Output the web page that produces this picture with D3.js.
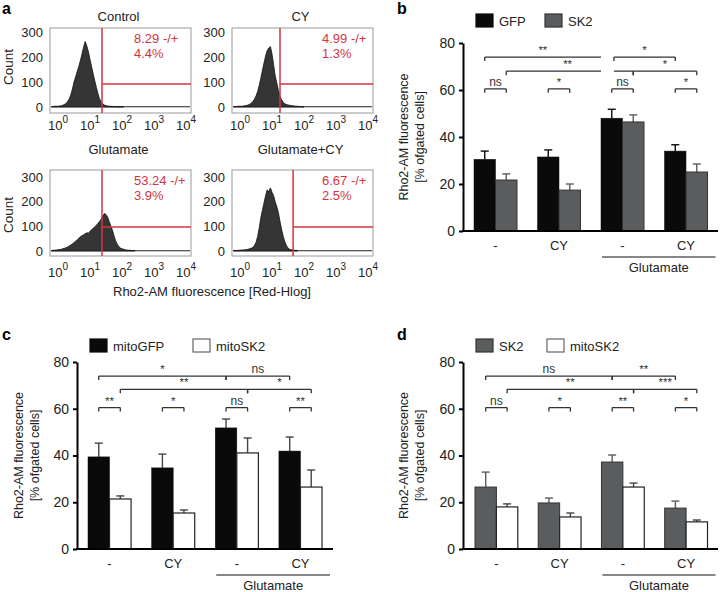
<!DOCTYPE html>
<html><head><meta charset="utf-8">
<script src="https://cdn.jsdelivr.net/npm/d3@7"></script>
<style>body{margin:0;background:#fff} svg text{font-family:"Liberation Sans",Arial,sans-serif}</style>
</head><body><svg id="chart" width="720" height="592"></svg>
<script>
// ---------- DATA ----------
const histStart = -0.2, histStep = 0.05; // log10 bin positions
const histControl = [2,2,3,3,3,4,5,7,10,14,22,32,48,72,100,120,142,162,186,212,240,262,244,222,190,162,132,104,78,52,32,20,12,8,5,4,3,3,2,2,2,1,1,1,1,1];
const histCY = [2,2,2,3,3,3,4,5,6,8,11,15,22,31,44,62,86,115,146,176,204,226,236,242,212,170,124,96,66,44,29,19,13,10,8,7,6,5,4,3,3,2,2,1,1];
const histGlu = [2,3,3,4,5,6,7,9,11,13,16,20,24,29,34,40,45,52,58,62,66,70,74,72,80,86,92,98,104,112,120,130,142,152,148,138,120,102,85,62,42,28,18,12,9,7,5,4,3,3,2,2,2];
const histGluCY = [2,2,2,3,3,4,4,5,6,7,9,11,15,22,35,58,92,135,165,195,225,248,240,256,238,225,200,180,155,120,88,60,38,22,12,7,5,4,3,3,2];
const histTitles = ["Control","CY","Glutamate","Glutamate+CY"];
const histGates = [1.375, 1.25, 1.375, 1.66];       // log10 fluorescence gate
const histGateCounts = [92, 92, 97, 97];              // horizontal gate level (count)
const histStats = [["8.29 -/+","4.4%"],["4.99 -/+","1.3%"],["53.24 -/+","3.9%"],["6.67 -/+","2.5%"]];
const histYTicks = [0,100,200,300];
const histXTicks = [0,1,2,3,4];

const groups = ["g1","g2","g3","g4"];
const groupLabels = ["-","CY","-","CY"];
const yTicks = [0,20,40,60,80];

// panel b
const bGFP = [30.5, 31.5, 48, 34];
const bGFPErr = [3.5, 3, 3.8, 2.7];
const bSK2 = [21.7, 17.4, 46.4, 25.1];
const bSK2Err = [2.6, 2.6, 3, 3.4];
// panel c
const cMitoGFP = [39.4, 34.7, 51.8, 41.9];
const cMitoGFPErr = [5.9, 5.9, 3.8, 6.0];
const cMitoSK2 = [21.4, 15.4, 41.1, 26.5];
const cMitoSK2Err = [1.3, 1.3, 6.4, 7.3];
// panel d
const dSK2 = [26.5, 19.7, 37.2, 17.5];
const dSK2Err = [6.4, 2.1, 3.0, 3.0];
const dMitoSK2 = [18, 13.7, 26.5, 11.6];
const dMitoSK2Err = [1.3, 1.7, 1.7, 0.8];

// significance brackets: [group, seriesPos] endpoints, level (data units), label
const bBrackets = [
  {a:[0,0], b:[2,-0.5], lvl:74, label:"**", ta:1, tb:0},
  {a:[2,0.1], b:[3,0], lvl:74, label:"*", ta:1, tb:1},
  {a:[0,1], b:[2,-0.5], lvl:68, label:"**", ta:1, tb:0, dx:14},
  {a:[2,0.1], b:[2,1], lvl:68, label:"", ta:0, tb:1},
  {a:[2,1], b:[3,1], lvl:68, label:"*", ta:1, tb:1},
  {a:[0,0], b:[0,1], lvl:60.5, label:"ns", ta:1, tb:1},
  {a:[1,0], b:[1,1], lvl:60.5, label:"*", ta:1, tb:1},
  {a:[2,0], b:[2,1], lvl:60.5, label:"ns", ta:1, tb:1},
  {a:[3,0], b:[3,1], lvl:60.5, label:"*", ta:1, tb:1}
];
const cBrackets = [
  {a:[0,0], b:[2,0], lvl:74, label:"*", ta:1, tb:1},
  {a:[2,0], b:[3,0], lvl:74, label:"ns", ta:1, tb:1},
  {a:[0,1], b:[2,1], lvl:68.3, label:"**", ta:1, tb:1},
  {a:[2,1], b:[3,1], lvl:68.3, label:"*", ta:1, tb:1},
  {a:[0,0], b:[0,1], lvl:60.5, label:"**", ta:1, tb:1},
  {a:[1,0], b:[1,1], lvl:60.5, label:"*", ta:1, tb:1},
  {a:[2,0], b:[2,1], lvl:60.5, label:"ns", ta:1, tb:1},
  {a:[3,0], b:[3,1], lvl:60.5, label:"**", ta:1, tb:1}
];
const dBrackets = [
  {a:[0,0], b:[2,0], lvl:74, label:"ns", ta:1, tb:1},
  {a:[2,0], b:[3,0], lvl:74, label:"**", ta:1, tb:1},
  {a:[0,1], b:[2,1], lvl:68.3, label:"**", ta:1, tb:1},
  {a:[2,1], b:[3,1], lvl:68.3, label:"***", ta:1, tb:1},
  {a:[0,0], b:[0,1], lvl:60.5, label:"ns", ta:1, tb:1},
  {a:[1,0], b:[1,1], lvl:60.5, label:"*", ta:1, tb:1},
  {a:[2,0], b:[2,1], lvl:60.5, label:"**", ta:1, tb:1},
  {a:[3,0], b:[3,1], lvl:60.5, label:"*", ta:1, tb:1}
];

// ---------- DRAW ----------
const svg = d3.select("#chart");
const RED = "#d4343e";
const BLACK = "#0a0a0a", GREY = "#5b5c5e";

// panel letters
[["a",2,14],["b",397,14],["c",2,340],["d",397,340]].forEach(([t,x,y]) =>
  svg.append("text").attr("x",x).attr("y",y).attr("font-size",16).attr("font-weight","bold").text(t));

// ---- panel a ----
const histData = [histControl, histCY, histGlu, histGluCY];
const boxes = [
  {x:50, y:28, w:141, h:85, zero:107, top:32, tickY:130, titleY:21},
  {x:232, y:28, w:141, h:85, zero:107, top:32, tickY:130, titleY:21},
  {x:50, y:170, w:141, h:86, zero:251, top:177, tickY:277, titleY:154},
  {x:232, y:170, w:141, h:86, zero:251, top:177, tickY:277, titleY:154}
];
boxes.forEach((b, i) => {
  const g = svg.append("g");
  const x = d3.scaleLinear().domain([0,4]).range([b.x+8, b.x+8+128]);
  const y = d3.scaleLinear().domain([0,300]).range([b.zero, b.top]);
  const pts = histData[i].map((c, k) => ({lg: histStart + k*histStep, c}));
  // baseline tail
  g.append("line").attr("x1", b.x+1).attr("x2", b.x+b.w-1)
    .attr("y1", y(1)).attr("y2", y(1)).attr("stroke","#222").attr("stroke-width",1.2);
  g.append("path").datum(pts)
    .attr("d", d3.area().x(d=>x(d.lg)).y0(y(0)).y1(d=>y(d.c)))
    .attr("fill","#353535").attr("stroke","#111").attr("stroke-width",0.8);
  g.append("rect").attr("x",b.x).attr("y",b.y).attr("width",b.w).attr("height",b.h)
    .attr("fill","none").attr("stroke","#9a9a9a").attr("stroke-width",1);
  // gates
  const gx = x(histGates[i]);
  g.append("line").attr("x1",gx).attr("x2",gx).attr("y1",b.y).attr("y2",b.y+b.h)
    .attr("stroke",RED).attr("stroke-width",1.5);
  g.append("line").attr("x1",gx).attr("x2",b.x+b.w).attr("y1",y(histGateCounts[i])).attr("y2",y(histGateCounts[i]))
    .attr("stroke",RED).attr("stroke-width",1.5);
  // stats
  const tx = b.x + (i%2 ? 90 : 84);
  g.append("text").attr("x",tx).attr("y",b.y+15).attr("fill",RED).attr("font-size",13).text(histStats[i][0]);
  g.append("text").attr("x",tx).attr("y",b.y+30).attr("fill",RED).attr("font-size",13).text(histStats[i][1]);
  // y ticks
  histYTicks.forEach(t => g.append("text").attr("x",b.x-7).attr("y",y(t)).attr("dy","0.35em")
    .attr("text-anchor","end").attr("font-size",13).attr("fill","#222").text(t));
  // x ticks
  histXTicks.forEach(t => {
    const tt = g.append("text").attr("x",x(t)).attr("y",b.tickY).attr("text-anchor","middle")
      .attr("font-size",13).attr("fill","#222");
    tt.append("tspan").text("10");
    tt.append("tspan").attr("dy",-7).attr("font-size",10).text(t);
  });
  g.append("text").attr("x",b.x+b.w/2-2).attr("y",b.titleY).attr("text-anchor","middle")
    .attr("font-size",13).attr("fill","#222").text(histTitles[i]);
});
[[13,67],[13,215]].forEach(([x,y]) => svg.append("text").attr("transform",`translate(${x},${y}) rotate(-90)`)
  .attr("text-anchor","middle").attr("font-size",13.5).attr("fill","#222").text("Count"));
svg.append("text").attr("x",212).attr("y",296).attr("text-anchor","middle").attr("font-size",13)
  .attr("fill","#222").text("Rho2-AM fluorescence [Red-Hlog]");

// ---- bar panels ----
function barPanel(cfg) {
  const g = svg.append("g");
  const y = d3.scaleLinear().domain([0,80]).range([cfg.y0, cfg.y80]);
  const x0 = d3.scaleBand().domain(groups).range([cfg.L, cfg.R]).paddingInner(0.323).paddingOuter(0);
  const x1 = d3.scaleBand().domain(cfg.series.map(s=>s.name)).range([0, x0.bandwidth()]);
  const cx = (gi, sp) => x0(groups[gi]) + x1.bandwidth()*(sp+0.5);

  cfg.series.forEach((s, si) => {
    groups.forEach((gr, gi) => {
      const v = s.values[gi], e = s.errs[gi];
      const bx = x0(gr) + x1(s.name);
      const mid = bx + x1.bandwidth()/2;
      g.append("line").attr("x1",mid).attr("x2",mid).attr("y1",y(v)).attr("y2",y(v+e))
        .attr("stroke",s.err).attr("stroke-width",1.4);
      g.append("line").attr("x1",mid-4).attr("x2",mid+4).attr("y1",y(v+e)).attr("y2",y(v+e))
        .attr("stroke",s.err).attr("stroke-width",1.4);
      g.append("rect").attr("x",bx).attr("y",y(v)).attr("width",x1.bandwidth()).attr("height",y(0)-y(v))
        .attr("fill",s.fill).attr("stroke",s.stroke).attr("stroke-width",s.sw);
    });
  });
  // axes
  const ax = g.append("g").attr("transform",`translate(${cfg.axisX},0)`)
    .call(d3.axisLeft(y).tickValues(yTicks).tickSize(4).tickSizeOuter(0).tickPadding(4));
  ax.select(".domain").attr("stroke","#000").attr("stroke-width",2);
  ax.selectAll(".tick line").attr("stroke","#000").attr("stroke-width",2);
  ax.selectAll(".tick text").attr("font-size",14).attr("fill","#222").attr("font-family","Liberation Sans, Arial, sans-serif");
  g.append("line").attr("x1",cfg.axisX-1).attr("x2",cfg.axisRight).attr("y1",y(0)).attr("y2",y(0))
    .attr("stroke","#000").attr("stroke-width",2);
  // group labels
  groups.forEach((gr, gi) => g.append("text").attr("x",x0(gr)+x0.bandwidth()/2).attr("y",y(0)+19)
    .attr("text-anchor","middle").attr("font-size",13).attr("fill","#222").text(groupLabels[gi]));
  const gl1 = x0(groups[2]) + 1, gl2 = x0(groups[3]) + x0.bandwidth() + 8;
  g.append("line").attr("x1",gl1).attr("x2",gl2).attr("y1",y(0)+26).attr("y2",y(0)+26)
    .attr("stroke","#111").attr("stroke-width",1.2);
  g.append("text").attr("x",(gl1+gl2)/2).attr("y",y(0)+41).attr("text-anchor","middle")
    .attr("font-size",13).attr("fill","#222").text("Glutamate");
  // y label
  g.append("text").attr("transform",`translate(${cfg.yl1},${(cfg.y0+cfg.y80)/2}) rotate(-90)`)
    .attr("text-anchor","middle").attr("font-size",12.5).attr("fill","#222").text("Rho2-AM fluorescence");
  g.append("text").attr("transform",`translate(${cfg.yl2},${(cfg.y0+cfg.y80)/2}) rotate(-90)`)
    .attr("text-anchor","middle").attr("font-size",12.5).attr("fill","#222").text("[% ofgated cells]");
  // brackets
  cfg.brackets.forEach(bk => {
    const xa = cx(bk.a[0], bk.a[1]), xb = cx(bk.b[0], bk.b[1]), yy = y(bk.lvl);
    let d = `M${xa},${yy}H${xb}`;
    if (bk.ta) d += `M${xa},${yy}V${yy+4}`;
    if (bk.tb) d += `M${xb},${yy}V${yy+4}`;
    g.append("path").attr("d",d).attr("fill","none").attr("stroke","#333").attr("stroke-width",1.3);
    if (bk.label) g.append("text").attr("x",(xa+xb)/2 + (bk.dx||0)).attr("y",yy-3)
      .attr("text-anchor","middle").attr("font-size",bk.label==="ns"?12:11.5).attr("fill","#333").text(bk.label);
  });
  // legend
  cfg.legend.forEach(l => {
    g.append("rect").attr("x",l.x).attr("y",cfg.legY).attr("width",17).attr("height",13)
      .attr("fill",l.fill).attr("stroke",l.stroke).attr("stroke-width",1.2);
    g.append("text").attr("x",l.x+23).attr("y",cfg.legY+11.5).attr("font-size",13).attr("fill","#222").text(l.name);
  });
}

barPanel({
  L:474, R:707.5, axisX:463, axisRight:718, y0:231, y80:43, yl1:408, yl2:424, legY:14,
  series:[
    {name:"GFP", values:bGFP, errs:bGFPErr, fill:BLACK, stroke:BLACK, sw:0.5, err:BLACK},
    {name:"SK2", values:bSK2, errs:bSK2Err, fill:GREY, stroke:"#333", sw:1, err:GREY}
  ],
  brackets:bBrackets,
  legend:[{x:476, name:"GFP", fill:BLACK, stroke:BLACK},{x:545, name:"SK2", fill:GREY, stroke:"#333"}]
});
barPanel({
  L:88, R:322, axisX:77, axisRight:333, y0:549, y80:362, yl1:23, yl2:39, legY:339,
  series:[
    {name:"mitoGFP", values:cMitoGFP, errs:cMitoGFPErr, fill:BLACK, stroke:BLACK, sw:0.5, err:"#444"},
    {name:"mitoSK2", values:cMitoSK2, errs:cMitoSK2Err, fill:"#fff", stroke:"#222", sw:1.2, err:"#444"}
  ],
  brackets:cBrackets,
  legend:[{x:90, name:"mitoGFP", fill:BLACK, stroke:BLACK},{x:193, name:"mitoSK2", fill:"#fff", stroke:"#666"}]
});
barPanel({
  L:475, R:707.5, axisX:463, axisRight:718, y0:549, y80:362, yl1:408, yl2:424, legY:339,
  series:[
    {name:"SK2", values:dSK2, errs:dSK2Err, fill:GREY, stroke:"#333", sw:1, err:GREY},
    {name:"mitoSK2", values:dMitoSK2, errs:dMitoSK2Err, fill:"#fff", stroke:"#222", sw:1.2, err:"#444"}
  ],
  brackets:dBrackets,
  legend:[{x:476, name:"SK2", fill:GREY, stroke:"#333"},{x:547, name:"mitoSK2", fill:"#fff", stroke:"#666"}]
});
</script></body></html>
